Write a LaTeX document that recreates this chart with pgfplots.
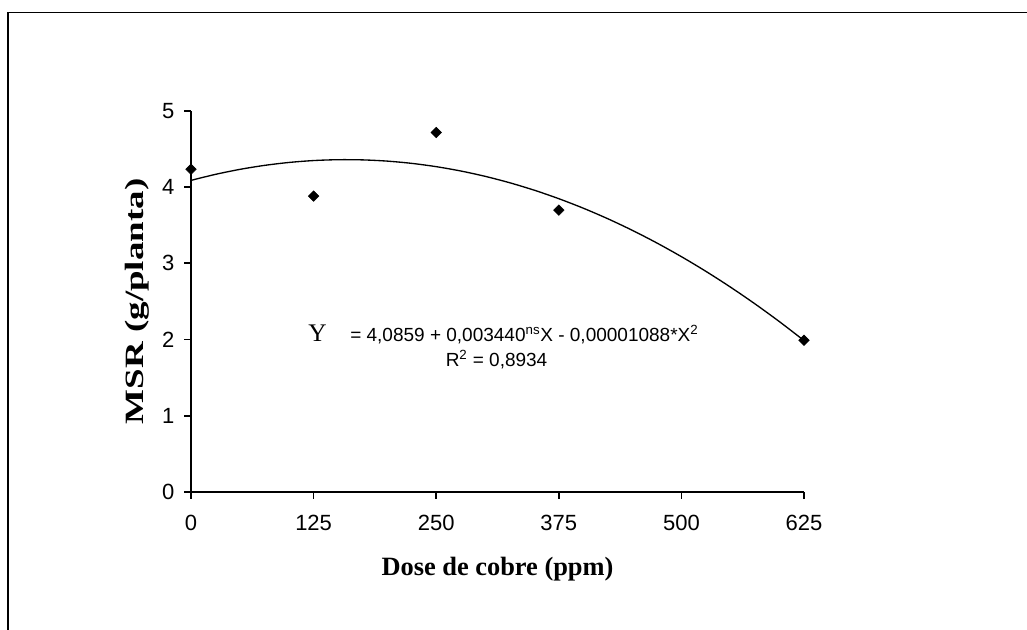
\documentclass[border=0pt]{standalone}
\usepackage{fontspec}
\setmainfont{Liberation Sans}
\newfontfamily\timesfont{Liberation Serif}
\usepackage{pgfplots}
\pgfplotsset{compat=1.18}
\begin{document}
\begin{tikzpicture}
\useasboundingbox (0,0) rectangle (770.25pt,471.75pt);
\draw[line width=1.2pt] (6.2pt,-2pt) -- (6.2pt,462.5pt) -- (772pt,462.5pt);
\begin{axis}[
  scale only axis,
  at={(143.25pt,102.75pt)}, anchor=south west,
  width=459.75pt, height=286pt,
  xmin=0, xmax=625, ymin=0, ymax=5,
  axis x line*=bottom, axis y line*=left,
  axis line style={line width=1.4pt},
  xtick={0,125,250,375,500,625},
  ytick={0,1,2,3,4,5},
  tick align=outside,
  major tick length=5pt,
  tick style={line width=1.3pt, black},
  /pgf/number format/assume math mode=true,
  ticklabel style={font=\fontsize{16.5}{19}\selectfont},
  xticklabel style={yshift=-9pt},
  yticklabel style={xshift=-4pt},
  xlabel={Dose de cobre (ppm)},
  ylabel={MSR (g/planta)},
  xlabel style={font=\timesfont\bfseries\fontsize{19.8}{23}\selectfont, at={(axis description cs:0.5,0)}, anchor=base, yshift=-62.25pt},
  ylabel style={font=\timesfont\bfseries\fontsize{19.8}{23}\selectfont, at={(axis description cs:0,0.5)}, anchor=base, rotate=0, yshift=35.8pt, xscale=1.4},
  clip=false,
]
\addplot[black, line width=1pt, smooth, no marks] coordinates {
(0,4.0859) (25,4.1651) (50,4.2307) (75,4.2827) (100,4.3211) (125,4.3459)
(150,4.3571) (175,4.3547) (200,4.3387) (225,4.3091) (250,4.2659) (275,4.2091)
(300,4.1387) (325,4.0547) (350,3.9571) (375,3.8459) (400,3.7211) (425,3.5827)
(450,3.4307) (475,3.2651) (500,3.0859) (525,2.8931) (550,2.6867) (575,2.4667)
(600,2.2331) (625,1.9859)
};
\addplot[only marks, mark=square*, mark options={rotate=45}, mark size=2.8pt, black] coordinates {
(0,4.233) (125,3.88) (250,4.714) (375,3.696) (625,1.99)
};
\end{axis}
\node[anchor=base, inner sep=0pt, font=\timesfont\fontsize{19}{22}\selectfont] at (238.1pt,215.5pt) {Y};
\node[anchor=base west, inner sep=0pt, font=\fontsize{14.25}{17}\selectfont] at (262.5pt,215.5pt) {= 4,0859 + 0,003440\textsuperscript{ns}X - 0,00001088*X\textsuperscript{2}};
\node[anchor=base, inner sep=0pt, font=\fontsize{14.25}{17}\selectfont] at (372.4pt,196.7pt) {R\textsuperscript{2} = 0,8934};
\end{tikzpicture}
\end{document}
